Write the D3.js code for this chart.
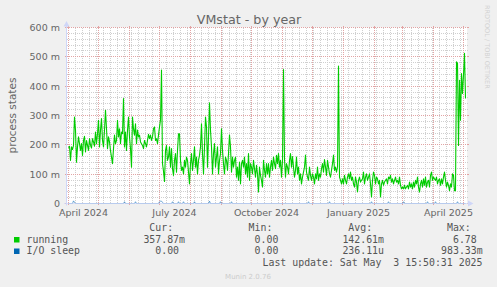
<!DOCTYPE html>
<html><head><meta charset="utf-8">
<script src="https://cdn.jsdelivr.net/npm/d3@7/dist/d3.min.js"></script>
<style>
body{margin:0;background:#F0F0F0;}
svg{display:block;}
</style>
</head><body>
<svg id="chart" width="497" height="287"></svg>
<script>
// ---------- data ----------
const seriesStart = Date.UTC(2024, 3, 1);   // first daily sample (1 April 2024)
// running processes, daily averages, in milli-units (m)
const runningValues = [
190,195,147,193,184,198,295,250,141,193,
227,204,181,204,164,215,229,176,215,198,
181,221,198,189,221,210,195,244,204,238,
284,193,250,290,215,193,250,318,255,187,
227,210,180,158,136,187,233,204,215,284,
227,255,204,244,238,358,193,244,181,250,
295,227,187,124,295,255,233,272,204,250,
227,233,210,204,198,187,215,204,193,215,
236,221,233,215,227,255,261,215,221,204,
233,261,284,455,136,110,75,181,198,147,
158,193,124,187,119,96,147,170,107,181,
238,238,147,113,124,101,147,124,158,147,
107,67,136,170,113,147,193,124,158,101,
147,164,193,272,170,101,193,295,261,124,
227,343,250,193,101,170,204,124,158,193,
101,147,170,255,181,136,101,158,147,113,
170,233,193,107,158,124,147,158,90,124,
79,141,67,136,147,124,158,101,136,90,
170,79,136,124,101,147,119,90,130,101,
39,124,96,79,56,147,113,90,136,101,
136,90,124,147,113,158,136,119,164,136,
170,124,147,90,147,457,150,90,136,124,
101,147,170,124,160,124,90,113,158,101,
124,79,101,67,90,107,124,165,107,90,
79,124,96,79,101,90,67,101,84,124,
79,101,90,119,136,107,150,124,96,147,
124,101,90,113,136,165,113,124,107,124,
469,90,79,67,84,67,96,79,67,90,
101,84,107,79,90,67,56,90,73,39,
79,90,73,79,84,107,67,90,101,79,
90,101,67,22,79,107,96,67,90,84,
67,79,22,67,79,62,73,79,84,67,
90,84,96,73,84,67,79,90,73,79,
67,90,62,50,56,50,62,50,56,62,
50,73,56,67,50,73,56,79,67,90,
56,39,67,79,56,84,62,90,56,73,
79,56,96,107,79,90,84,79,90,67,
79,84,62,84,67,90,107,79,56,73,
62,44,67,56,101,96,44,44,483,478,
198,420,284,443,375,438,512,358
];
// I/O sleep: zero except on these days (day index from seriesStart), values in m
const ioSleepDays   = [5,6,56,67,91,92,93,94,104,110,115,126,141,152,163,240,261,303,320,335,359,367,389];
const ioSleepValues = [9,4,6,6,6,8,8,4,6,6,6,6,8,6,6,6,6,6,6,6,6,6,6];

const yTickValues = [0,100,200,300,400,500,600];
const yTickLabels = ["0","100 m","200 m","300 m","400 m","500 m","600 m"];
const xLabelDates = [Date.UTC(2024,3,1), Date.UTC(2024,6,1), Date.UTC(2024,9,1), Date.UTC(2025,0,1), Date.UTC(2025,3,1)];
const xLabelTexts = ["April 2024","July 2024","October 2024","January 2025","April 2025"];

const legendNames  = ["running","I/O sleep"];
const legendColors = ["#00CC00","#0066B3"];
const legendHeaders = ["Cur:","Min:","Avg:","Max:"];
const legendCur = ["357.87m","0.00"];
const legendMin = ["0.00","0.00"];
const legendAvg = ["142.61m","236.11u"];
const legendMax = ["6.78","983.33m"];
const lastUpdate = "Last update: Sat May  3 15:50:31 2025";

// ---------- scales ----------
const DAY = 864e5;
const svg = d3.select("#chart");
const x = d3.scaleUtc().domain([Date.UTC(2024,2,31), Date.UTC(2025,4,5)]).range([67, 467]);
const y = d3.scaleLinear().domain([0, 600]).range([203.5, 27.5]);
const X0 = 67, X1 = 467, Y0 = 203.5, Y1 = 27.5;

const fontSans = "DejaVu Sans, sans-serif";
const fontMono = "DejaVu Sans Mono, monospace";
const fontCol = "#666666";

// canvas
svg.append("rect").attr("x",X0).attr("y",Y1).attr("width",X1-X0).attr("height",Y0-Y1).attr("fill","#ffffff");

const grid = svg.append("g");
const minorCol = "#cfcfcf", majorCol = "#e2a4a4";
const snap = v => Math.round(v - 0.5) + 0.5;
const VY1 = 28, VY2 = 203;

// horizontal minor
d3.range(20, 600, 20).filter(v => v % 100 !== 0).forEach(v => {
  const yy = snap(y(v));
  grid.append("line").attr("x1",X0).attr("x2",X1).attr("y1",yy).attr("y2",yy)
    .attr("stroke",minorCol).attr("stroke-dasharray","1,1");
  grid.append("line").attr("x1",X0-1).attr("x2",X0).attr("y1",yy).attr("y2",yy).attr("stroke",minorCol);
  grid.append("line").attr("x1",X1).attr("x2",X1+1).attr("y1",yy).attr("y2",yy).attr("stroke",minorCol);
});
// vertical minor (weeks)
const d0 = x.domain()[0], d1 = x.domain()[1];
d3.utcMonday.range(d0, d1).filter(d => d.getUTCDate() !== 1).forEach(d => {
  const xx = snap(x(d) + 0.5);
  grid.append("line").attr("x1",xx).attr("x2",xx).attr("y1",VY1).attr("y2",VY2)
    .attr("stroke",minorCol).attr("stroke-dasharray","1,1");
});
// horizontal major
yTickValues.forEach(v => {
  const yy = snap(y(v));
  if (v > 0) grid.append("line").attr("x1",X0).attr("x2",X1).attr("y1",yy).attr("y2",yy)
    .attr("stroke",majorCol).attr("stroke-dasharray","1,1");
  grid.append("line").attr("x1",X0-2).attr("x2",X0).attr("y1",yy).attr("y2",yy).attr("stroke",majorCol);
  grid.append("line").attr("x1",X1).attr("x2",X1+2).attr("y1",yy).attr("y2",yy).attr("stroke",majorCol);
});
// vertical major (months)
d3.utcMonth.range(d0, d1).forEach(d => {
  const xx = snap(x(d) + 0.5);
  grid.append("line").attr("x1",xx).attr("x2",xx).attr("y1",VY1).attr("y2",VY2)
    .attr("stroke",majorCol).attr("stroke-dasharray","1,1");
  grid.append("line").attr("x1",xx).attr("x2",xx).attr("y1",VY2).attr("y2",VY2+2).attr("stroke",majorCol);
  grid.append("line").attr("x1",xx).attr("x2",xx).attr("y1",VY1-2).attr("y2",VY1).attr("stroke",majorCol);
});

// ---------- series ----------
const runningData = runningValues.map((v, i) => ({t: new Date(seriesStart + i*DAY), v}));
const ioSleepData = runningValues.map((_, i) => {
  const k = ioSleepDays.indexOf(i);
  return {t: new Date(seriesStart + i*DAY), v: k >= 0 ? ioSleepValues[k] : 0};
});
const line = d3.line().x(d => x(d.t) + 0.5).y(d => y(d.v));

svg.append("path").datum(runningData).attr("d", line)
  .attr("fill","none").attr("stroke",legendColors[0]).attr("stroke-width",1.1).attr("stroke-linejoin","round");
svg.append("path").datum(ioSleepData).attr("d", line)
  .attr("fill","none").attr("stroke",legendColors[1]).attr("stroke-width",1).attr("stroke-opacity",0.55);

// ---------- axes ----------
const axisCol = "#CFD6F8";
svg.append("line").attr("x1",X0-0.5).attr("x2",X0-0.5).attr("y1",Y0+2).attr("y2",Y1-2).attr("stroke",axisCol);
svg.append("line").attr("x1",X0-3).attr("x2",X1+2).attr("y1",Y0).attr("y2",Y0).attr("stroke",axisCol).attr("stroke-opacity",0.7);
svg.append("path").attr("d",`M${X0-3.5},${Y1-1} L${X0+2.5},${Y1-1} L${X0-0.5},${Y1-6.5} Z`).attr("fill",axisCol);
svg.append("path").attr("d",`M${X1+1},${Y0-3} L${X1+1},${Y0+3} L${X1+6.5},${Y0} Z`).attr("fill",axisCol);

// y tick labels
svg.append("g").selectAll("text").data(yTickValues).join("text")
  .attr("x",60).attr("y",v => y(v) + 3.5).attr("text-anchor","end")
  .attr("font-family",fontSans).attr("font-size","9.5px").attr("fill",fontCol)
  .text((v,i) => yTickLabels[i]);

// x labels (centered mid-month)
svg.append("g").selectAll("text").data(xLabelDates).join("text")
  .attr("x",d => x(new Date(d + 15.5*DAY))).attr("y",215.5).attr("text-anchor","middle")
  .attr("font-family",fontSans).attr("font-size","9.5px").attr("fill",fontCol)
  .text((d,i) => xLabelTexts[i]);

// title
svg.append("text").attr("x",249).attr("y",24).attr("text-anchor","middle")
  .attr("font-family",fontSans).attr("font-size","12.7px").attr("fill",fontCol)
  .text("VMstat - by year");

// y axis title
svg.append("text").attr("transform","translate(15.5,115.5) rotate(-90)").attr("text-anchor","middle")
  .attr("font-family",fontSans).attr("font-size","10.5px").attr("fill",fontCol)
  .text("process states");

// watermark
svg.append("text").attr("transform","translate(485,5) rotate(90)")
  .attr("font-family",fontSans).attr("font-size","6.5px").attr("fill","#d2d2d2")
  .text("RRDTOOL / TOBI OETIKER");

// ---------- legend ----------
const cw = 5.96;
const colRight = [185, 284.3, 384, 482.7];
const rowY = [242.5, 254];
const lg = svg.append("g").attr("font-family",fontMono).attr("font-size","9.9px").attr("fill","#555555");
legendHeaders.forEach((h, j) => {
  lg.append("text").attr("x",colRight[j] - 2*cw).attr("y",231).attr("text-anchor","end").text(h);
});
const cols = [legendCur, legendMin, legendAvg, legendMax];
legendNames.forEach((n, i) => {
  svg.append("rect").attr("x",14).attr("y",rowY[i]-5.5).attr("width",5.5).attr("height",5.5).attr("fill",legendColors[i]);
  lg.append("text").attr("x",26.5).attr("y",rowY[i]).text(n);
  cols.forEach((c, j) => {
    const s = c[i];
    const hasSuffix = /[a-zA-Z]$/.test(s);
    lg.append("text").attr("x",colRight[j] - (hasSuffix ? 0 : cw)).attr("y",rowY[i])
      .attr("text-anchor","end").text(s);
  });
});
lg.append("text").attr("x",482.5).attr("y",266).attr("text-anchor","end")
  .attr("xml:space","preserve").style("white-space","pre").text(lastUpdate);

svg.append("text").attr("x",248).attr("y",279).attr("text-anchor","middle")
  .attr("font-family",fontSans).attr("font-size","7px").attr("fill","#cccccc")
  .text("Munin 2.0.76");
</script>
</body></html>
